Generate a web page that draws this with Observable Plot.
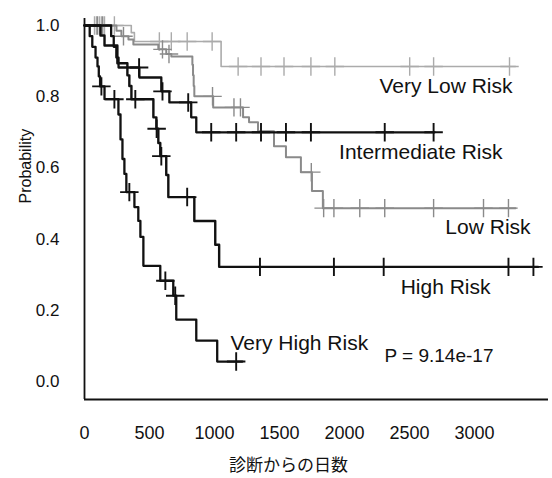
<!DOCTYPE html>
<html><head><meta charset="utf-8">
<script src="https://cdn.jsdelivr.net/npm/d3@7"></script>
<script src="https://cdn.jsdelivr.net/npm/@observablehq/plot@0.6"></script>
<style>body{margin:0;background:#fff} svg{display:block}</style>
</head><body><div id="chart"></div>
<script>
// ---- data (days since diagnosis, survival probability) ----
const seriesNames = ["Very Low Risk", "Low Risk", "Intermediate Risk", "High Risk", "Very High Risk"];

const veryLowTimes = [0, 360, 384, 1051];
const veryLowSurv  = [1, 0.98, 0.955, 0.885];
const veryLowEnd = 3316;
const veryLowCensor = [77, 92, 115, 130, 154, 230, 576, 668, 790, 982, 1182, 1358, 1535, 1742, 1926, 2502, 2686, 3270];

const lowTimes = [0, 246, 284, 338, 376, 568, 629, 668, 830, 835, 840, 845, 990, 1220, 1266, 1335, 1458, 1550, 1665, 1750, 1834];
const lowSurv  = [1, 0.985, 0.97, 0.961, 0.947, 0.933, 0.92, 0.913, 0.89, 0.86, 0.83, 0.801, 0.770, 0.742, 0.728, 0.703, 0.661, 0.630, 0.588, 0.535, 0.487];
const lowEnd = 3316;
const lowCensor = [100, 140, 300, 600, 650, 985, 1150, 1200, 1745, 1840, 1919, 2118, 2310, 2686, 3070, 3262];

const intTimes = [0, 205, 225, 245, 262, 422, 591, 653, 821, 860];
const intSurv  = [1, 0.97, 0.94, 0.91, 0.882, 0.854, 0.815, 0.784, 0.742, 0.70];
const intEnd = 2694;
const intCensor = [420, 600, 798, 975, 1167, 1358, 1550, 1742, 2310, 2686];

const highTimes = [0, 123, 154, 253, 330, 345, 361, 530, 553, 568, 583, 629, 645, 845, 1006, 1036];
const highSurv  = [1, 0.972, 0.944, 0.894, 0.86, 0.83, 0.793, 0.742, 0.71, 0.67, 0.633, 0.58, 0.518, 0.451, 0.384, 0.322];
const highEnd = 3490;
const highCensor = [391, 555, 591, 790, 1350, 1919, 2302, 3262, 3454];

const vhTimes = [0, 40, 60, 85, 100, 110, 120, 154, 261, 277, 292, 307, 322, 384, 414, 430, 453, 583, 683, 706, 860, 1021];
const vhSurv  = [1, 0.97, 0.94, 0.91, 0.885, 0.857, 0.829, 0.793, 0.75, 0.68, 0.625, 0.583, 0.532, 0.49, 0.451, 0.406, 0.325, 0.283, 0.241, 0.174, 0.115, 0.056];
const vhEnd = 1215;
const vhCensor = [130, 230, 345, 622, 698, 1167];

const xTicks = [0, 500, 1000, 1500, 2000, 2500, 3000];
const yTicks = [0, 0.2, 0.4, 0.6, 0.8, 1.0];
const xLabel = "診断からの日数";
const yLabel = "Probability";
const pText = "P = 9.14e-17";

// ---- layout / style (kept apart from the data) ----
const xDomain = [0, 3570];
const yDomain = [-0.0506, 1.0197];
const colors = {"Very Low Risk": "#ababab", "Low Risk": "#8a8a8a", "Intermediate Risk": "#111", "High Risk": "#111", "Very High Risk": "#111"};
const widths = {"Very Low Risk": 1.6, "Low Risk": 2, "Intermediate Risk": 2.3, "High Risk": 2.4, "Very High Risk": 2.3};
const labelsEnd = [
  {name: "Very Low Risk", x: 3293, y: 0.828},
  {name: "Intermediate Risk", x: 3216, y: 0.644},
  {name: "Low Risk", x: 3432, y: 0.434},
  {name: "High Risk", x: 3124, y: 0.266}
];
const labelsStart = [
  {name: "Very High Risk", x: 1123, y: 0.106}
];

const raw = [
  [veryLowTimes, veryLowSurv, veryLowEnd, veryLowCensor],
  [lowTimes, lowSurv, lowEnd, lowCensor],
  [intTimes, intSurv, intEnd, intCensor],
  [highTimes, highSurv, highEnd, highCensor],
  [vhTimes, vhSurv, vhEnd, vhCensor]
];

const curves = {};
const censors = {};
seriesNames.forEach((name, i) => {
  const [ts, ss, end, cs] = raw[i];
  const rows = ts.map((t, j) => ({series: name, t, s: ss[j]}));
  rows.push({series: name, t: end, s: ss[ss.length - 1]});
  curves[name] = rows;
  censors[name] = cs.map(c => {
    let k = 0;
    for (let j = 0; j < ts.length; j++) if (ts[j] <= c) k = j;
    return {series: name, t: c, s: ss[k]};
  });
});

const font = "'Liberation Sans', Arial, sans-serif";
const marks = [];
seriesNames.forEach(name => {
  marks.push(Plot.line(curves[name], {x: "t", y: "s", curve: "step-after", stroke: colors[name], strokeWidth: widths[name]}));
  marks.push(Plot.dot(censors[name], {x: "t", y: "s", symbol: "plus", r: 6, stroke: colors[name], strokeWidth: name.includes("Low") ? 1.4 : 1.9}));
});

const chart = Plot.plot({
  width: 552,
  height: 478,
  marginLeft: 84,
  marginRight: 4,
  marginTop: 18,
  marginBottom: 79,
  style: {fontFamily: font, fontSize: "17px", color: "#111", background: "#fff"},
  x: {domain: xDomain},
  y: {domain: yDomain},
  marks: [
    ...marks,
    Plot.ruleX([xDomain[0]], {stroke: "#111", strokeWidth: 1.8}),
    Plot.ruleY([yDomain[0]], {stroke: "#111", strokeWidth: 1.8}),
    Plot.axisX({ticks: xTicks, tickSize: 0, tickPadding: 27, tickFormat: d3.format("d"), label: null, fontSize: 18}),
    Plot.axisY({ticks: yTicks, tickSize: 0, tickPadding: 25, tickFormat: d3.format(".1f"), label: null, fontSize: 17}),
    Plot.text(labelsEnd, {x: "x", y: "y", text: "name", textAnchor: "end", fontSize: 21, fill: "#111"}),
    Plot.text(labelsStart, {x: "x", y: "y", text: "name", textAnchor: "start", fontSize: 21, fill: "#111"}),
    Plot.text([pText], {x: 2308, y: 0.073, text: d => d, textAnchor: "start", fontSize: 19, fill: "#111"}),
    Plot.text([xLabel], {x: 1570, frameAnchor: "bottom", dy: 71, text: d => d, fontSize: 17, fontFamily: "'Noto Sans CJK JP', sans-serif", fill: "#111"}),
    Plot.text([yLabel], {y: 0.5, frameAnchor: "left", dx: -59, rotate: -90, text: d => d, fontSize: 16, fill: "#111"})
  ]
});
document.getElementById("chart").append(chart);
</script>
</body></html>
